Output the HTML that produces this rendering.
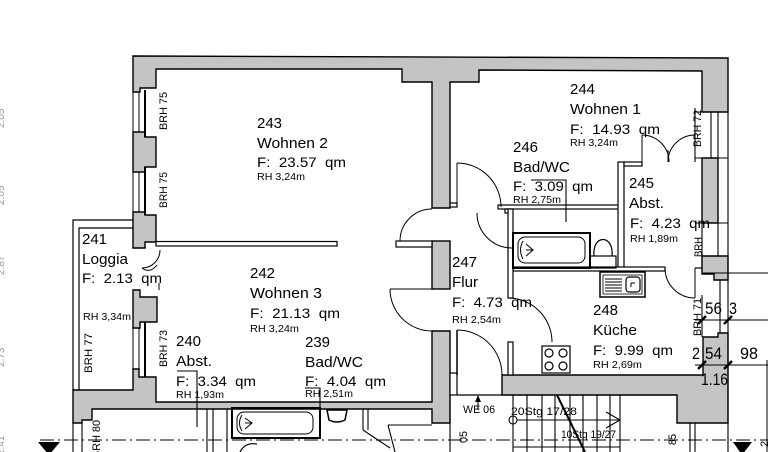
<!DOCTYPE html>
<html><head><meta charset="utf-8"><style>
html,body{margin:0;padding:0;background:#fff;}
svg{display:block;}
text{font-family:"Liberation Sans",sans-serif;fill:#000;white-space:pre;}
.n{font-size:15px}
.f{font-size:14px}
.r{font-size:10.5px}
.b{font-size:11px}
.d{font-size:17px}
.s{font-size:11px}
.g{font-size:10px;fill:#999}
</style></head><body>
<svg width="768" height="452" viewBox="0 0 768 452" xmlns="http://www.w3.org/2000/svg">
<rect width="768" height="452" fill="#fff"/>

<!-- gray walls -->
<g fill="#c4c4c4" stroke="#000" stroke-width="1.4" stroke-linejoin="miter">
 <polygon points="133,56 728,58 728,112 702,112 702,71 479,70 479,82 450,82 450,208 432,208 432,82 402,82 402,69 156,69 156,88 140,88 140,92 133,92"/>
 <polygon points="133,132 145,132 145,137 156,137 156,167 145,167 145,172 133,172"/>
 <polygon points="133,212 145,212 145,215 156,215 156,242 145,242 145,248 133,248"/>
 <polygon points="133,290 140,290 140,297 157,297 157,322 140,322 140,328 133,328"/>
 <polygon points="73,390 133,390 133,369 139,369 139,377 156,377 156,402 432,402 432,331 450,331 450,423 432,423 432,409 92,409 92,420 82,420 82,423 73,423"/>
 <rect x="432" y="241" width="18" height="48"/>
 <polygon points="702,158 718,158 718,223 702,223"/>
 <polygon points="702,256 728,256 728,280 714,280 714,274 702,274"/>
 <polygon points="502,375 703,375 703,337 718,337 718,333 728,333 728,423 677,423 677,395 502,395"/>
</g>

<!-- windows -->
<g stroke="#000" fill="none">
 <g stroke-width="1">
  <line x1="133" y1="92" x2="133" y2="132"/><line x1="139" y1="92" x2="139" y2="132"/>
  <line x1="133" y1="172" x2="133" y2="212"/><line x1="139" y1="172" x2="139" y2="212"/>
  <line x1="133" y1="328" x2="133" y2="369"/><line x1="139" y1="328" x2="139" y2="369"/>
 </g>
 <g stroke-width="2">
  <line x1="145" y1="90" x2="145" y2="137"/>
  <line x1="145" y1="167" x2="145" y2="215"/>
  <line x1="145" y1="322" x2="145" y2="377"/>
 </g>
 <g stroke-width="1.1">
  <line x1="695" y1="108" x2="695" y2="162"/>
  <line x1="711" y1="112" x2="711" y2="158"/>
  <line x1="718" y1="112" x2="718" y2="158"/>
  <line x1="695" y1="112" x2="728" y2="112"/>
  <line x1="695" y1="158" x2="728" y2="158"/>
  <line x1="728" y1="112" x2="728" y2="452"/>
  <line x1="702" y1="223" x2="702" y2="258"/>
  <line x1="718" y1="223" x2="718" y2="256"/>
  <line x1="695" y1="223" x2="728" y2="223"/>
  <line x1="702" y1="295" x2="702" y2="337"/>
  <line x1="720" y1="280" x2="720" y2="333"/>
  <line x1="703" y1="273" x2="768" y2="273"/>
 </g>
</g>

<!-- thin walls -->
<g fill="#fff" stroke="#000" stroke-width="1.2">
 <rect x="156" y="241.5" width="181" height="4.5"/>
 <rect x="396" y="241" width="36" height="6"/>
 <rect x="498" y="205" width="122" height="4"/>
 <rect x="505" y="209" width="7" height="4"/>
 <rect x="450" y="203" width="7" height="4"/>
 <rect x="618" y="162" width="6" height="106"/>
 <rect x="624" y="162" width="18" height="4"/>
 <rect x="513" y="267" width="152" height="4"/>
 <rect x="508" y="209" width="5" height="89"/>
 <rect x="508" y="342" width="5" height="33"/>
 <rect x="450" y="373" width="7" height="22"/>
</g>
<g stroke="#000" fill="none" stroke-width="1.2">
 <line x1="695" y1="268" x2="702" y2="268"/>
 <line x1="457" y1="395" x2="502" y2="395"/>
 <polyline points="133,220 73,220 73,390"/>
 <polyline points="133,228 79,228 79,390"/>
</g>

<!-- doors -->
<g stroke="#000" fill="none" stroke-width="1">
 <path d="M400,241 A32,32 0 0 1 432,209"/>
 <line x1="390" y1="289" x2="432" y2="289"/>
 <path d="M390,289 A42,42 0 0 0 432,331"/>
 <line x1="457" y1="330" x2="457" y2="375" stroke-width="1.5"/>
 <path d="M457,330 A45,45 0 0 1 502,375"/>
 <path d="M508,298 A44,44 0 0 1 552,342"/>
 <line x1="457" y1="163" x2="457" y2="207"/>
 <path d="M457,163 A44,44 0 0 1 501,207"/>
 <path d="M477,213 A35,35 0 0 0 512,248"/>
 <line x1="695" y1="268" x2="695" y2="298"/>
 <path d="M665,268 A30,30 0 0 0 695,298"/>
 <line x1="642" y1="135" x2="642" y2="162"/>
 <path d="M642,135 A27,27 0 0 1 669,162"/>
 <line x1="695" y1="135" x2="695" y2="162"/>
 <path d="M695,135 A27,27 0 0 0 668,162"/>
 <line x1="668" y1="150" x2="668" y2="162"/>
 <path d="M160,250 A18,18 0 0 1 142,268"/>
 <path d="M142,268 Q150,274 157,265"/>
 <line x1="159" y1="283" x2="159" y2="290"/>
</g>

<!-- fixtures -->
<g stroke="#000" fill="none">
 <rect x="513" y="233" width="77" height="35" stroke-width="2"/>
 <rect x="518" y="237" width="67" height="26" rx="7" stroke-width="1"/>
 <path d="M523,241 Q518,250 523,259" stroke-width="1"/>
 <path d="M526,244 L533,250 L526,256 M526,250 L533,250" stroke-width="1"/>
 <rect x="590" y="256" width="26" height="12" stroke-width="1.2"/>
 <path d="M594,256 C592,234 614,234 612,256" stroke-width="1.2"/>
 <rect x="600" y="272" width="45" height="25" stroke-width="1.5"/>
 <rect x="603" y="275" width="39" height="19" stroke-width="0.8"/>
 <g stroke-width="1">
  <line x1="605" y1="279" x2="622" y2="279"/><line x1="605" y1="282" x2="622" y2="282"/>
  <line x1="605" y1="285" x2="622" y2="285"/><line x1="605" y1="288" x2="622" y2="288"/>
  <line x1="605" y1="291" x2="622" y2="291"/>
 </g>
 <rect x="626" y="277" width="14" height="15" rx="3" stroke-width="1.2"/>
 <path d="M631,283 L631,287 M631,283 L635,283" stroke-width="1"/>
 <rect x="542" y="346" width="28" height="27" stroke-width="1.2"/>
 <g stroke-width="1.2">
  <circle cx="549" cy="353" r="4"/><circle cx="563" cy="353" r="4"/>
  <circle cx="549" cy="366" r="4"/><circle cx="563" cy="366" r="4"/>
 </g>
 <rect x="232" y="408" width="88" height="30" stroke-width="2"/>
 <rect x="237" y="412" width="76" height="22" rx="7" stroke-width="1"/>
 <path d="M242,415 Q237,423 242,431" stroke-width="1"/>
 <path d="M245,418 L252,423 L245,429 M245,423 L252,423" stroke-width="1"/>
 <path d="M327,410 L347,410 L345,420 Q337,424 329,420 Z" stroke-width="1.5"/>
 <path d="M240,452 Q245,442 257,444" stroke-width="1.2"/>
</g>

<!-- brackets & misc lines -->
<g stroke="#000" fill="none" stroke-width="1.1">
 <polyline points="531,180 566,180 566,222"/>
 <polyline points="177,371 197,371 197,427"/>
 <polyline points="305,388 320,388 320,437"/>
 <line x1="73" y1="423" x2="73" y2="452"/>
 <line x1="82" y1="423" x2="82" y2="452"/>
 <line x1="207" y1="409" x2="207" y2="452"/>
 <line x1="213" y1="409" x2="213" y2="452"/>
 <line x1="227" y1="409" x2="227" y2="452"/>
 <line x1="363" y1="409" x2="363" y2="430"/>
 <line x1="368" y1="409" x2="368" y2="430"/>
 <line x1="363" y1="430" x2="390" y2="448"/>
 <line x1="388" y1="425" x2="432" y2="425"/>
 <line x1="388" y1="425" x2="395" y2="452"/>
 <line x1="450" y1="395" x2="450" y2="452"/>
 <line x1="478" y1="410" x2="478" y2="399"/>
</g>
<polygon points="475,402 478,395 481,402" fill="#000"/>

<!-- stairs -->
<g stroke="#000" fill="none" stroke-width="1.1">
 <line x1="513" y1="395" x2="513" y2="452"/>
 <line x1="527" y1="395" x2="527" y2="452"/>
 <line x1="542" y1="395" x2="542" y2="452"/>
 <line x1="555" y1="395" x2="555" y2="452"/>
 <line x1="570" y1="395" x2="570" y2="452"/>
 <line x1="583" y1="395" x2="583" y2="452"/>
 <line x1="597" y1="395" x2="597" y2="452"/>
 <line x1="610" y1="395" x2="610" y2="452"/>
 <line x1="620" y1="395" x2="620" y2="452"/>
 <line x1="513" y1="447" x2="620" y2="447"/>
 <line x1="557" y1="395" x2="585" y2="452" stroke-width="2"/>
 <line x1="517" y1="420" x2="620" y2="420"/>
 <polyline points="606,412 620,420 606,428"/>
 <circle cx="513" cy="420" r="4"/>
 <line x1="690" y1="423" x2="690" y2="452"/>
 <line x1="695" y1="423" x2="695" y2="452"/>
</g>

<!-- axis line and markers -->
<line x1="40" y1="440" x2="768" y2="440" stroke="#000" stroke-width="1" stroke-dasharray="14 4 2 4"/>
<polygon points="38,442 60,442 49,455" fill="#000"/>
<polygon points="733,442 752,442 742,455" fill="#000"/>

<!-- dimensions -->
<g stroke="#000" fill="none" stroke-width="1">
 <line x1="695" y1="320" x2="768" y2="320"/>
 <line x1="695" y1="365" x2="768" y2="365"/>
 <line x1="767" y1="360" x2="767" y2="452"/>
 <g stroke-width="2.5">
  <line x1="698" y1="324" x2="706" y2="316"/>
  <line x1="724" y1="324" x2="732" y2="316"/>
  <line x1="698" y1="369" x2="706" y2="361"/>
  <line x1="724" y1="369" x2="732" y2="361"/>
 </g>
</g>
<text class="d" x="705" y="314" textLength="17" lengthAdjust="spacingAndGlyphs">56</text>
<text class="d" x="729" y="314" textLength="8" lengthAdjust="spacingAndGlyphs">3</text>
<text class="d" x="692" y="359" textLength="8" lengthAdjust="spacingAndGlyphs">2</text>
<text class="d" x="705" y="359" textLength="17" lengthAdjust="spacingAndGlyphs">54</text>
<text class="d" x="740" y="359" textLength="18" lengthAdjust="spacingAndGlyphs">98</text>
<text class="d" x="701" y="385" textLength="27" lengthAdjust="spacingAndGlyphs">1.16</text>

<!-- room labels -->
<text class="n" x="257" y="128">243</text>
<text class="n" x="257" y="148" textLength="71" lengthAdjust="spacingAndGlyphs">Wohnen 2</text>
<text class="f" x="257" y="167" textLength="89" lengthAdjust="spacingAndGlyphs">F:  23.57  qm</text>
<text class="r" x="257" y="180" textLength="48" lengthAdjust="spacingAndGlyphs">RH 3,24m</text>

<text class="n" x="570" y="94">244</text>
<text class="n" x="570" y="114" textLength="71" lengthAdjust="spacingAndGlyphs">Wohnen 1</text>
<text class="f" x="570" y="134" textLength="90" lengthAdjust="spacingAndGlyphs">F:  14.93  qm</text>
<text class="r" x="570" y="146" textLength="48" lengthAdjust="spacingAndGlyphs">RH 3,24m</text>

<text class="n" x="513" y="152">246</text>
<text class="n" x="513" y="172" textLength="57" lengthAdjust="spacingAndGlyphs">Bad/WC</text>
<text class="f" x="513" y="191" textLength="80" lengthAdjust="spacingAndGlyphs">F:  3.09  qm</text>
<text class="r" x="513" y="203" textLength="48" lengthAdjust="spacingAndGlyphs">RH 2,75m</text>

<text class="n" x="629" y="188">245</text>
<text class="n" x="629" y="208" textLength="35" lengthAdjust="spacingAndGlyphs">Abst.</text>
<text class="f" x="630" y="228" textLength="80" lengthAdjust="spacingAndGlyphs">F:  4.23  qm</text>
<text class="r" x="630" y="242" textLength="48" lengthAdjust="spacingAndGlyphs">RH 1,89m</text>

<text class="n" x="593" y="315">248</text>
<text class="n" x="593" y="335" textLength="44" lengthAdjust="spacingAndGlyphs">Küche</text>
<text class="f" x="593" y="355" textLength="80" lengthAdjust="spacingAndGlyphs">F:  9.99  qm</text>
<text class="r" x="593" y="368" textLength="49" lengthAdjust="spacingAndGlyphs">RH 2,69m</text>

<text class="n" x="452" y="267">247</text>
<text class="n" x="452" y="287" textLength="26" lengthAdjust="spacingAndGlyphs">Flur</text>
<text class="f" x="452" y="307" textLength="80" lengthAdjust="spacingAndGlyphs">F:  4.73  qm</text>
<text class="r" x="452" y="323" textLength="49" lengthAdjust="spacingAndGlyphs">RH 2,54m</text>

<text class="n" x="250" y="278">242</text>
<text class="n" x="250" y="298" textLength="72" lengthAdjust="spacingAndGlyphs">Wohnen 3</text>
<text class="f" x="250" y="318" textLength="90" lengthAdjust="spacingAndGlyphs">F:  21.13  qm</text>
<text class="r" x="250" y="332" textLength="49" lengthAdjust="spacingAndGlyphs">RH 3,24m</text>

<text class="n" x="82" y="244">241</text>
<text class="n" x="82" y="264" textLength="46" lengthAdjust="spacingAndGlyphs">Loggia</text>
<text class="f" x="82" y="283" textLength="80" lengthAdjust="spacingAndGlyphs">F:  2.13  qm</text>
<text class="r" x="83" y="320" textLength="48" lengthAdjust="spacingAndGlyphs">RH 3,34m</text>

<text class="n" x="176" y="346">240</text>
<text class="n" x="176" y="366" textLength="36" lengthAdjust="spacingAndGlyphs">Abst.</text>
<text class="f" x="176" y="386" textLength="80" lengthAdjust="spacingAndGlyphs">F:  3.34  qm</text>
<text class="r" x="176" y="398" textLength="48" lengthAdjust="spacingAndGlyphs">RH 1,93m</text>

<text class="n" x="305" y="347">239</text>
<text class="n" x="305" y="367" textLength="58" lengthAdjust="spacingAndGlyphs">Bad/WC</text>
<text class="f" x="305" y="386" textLength="81" lengthAdjust="spacingAndGlyphs">F:  4.04  qm</text>
<text class="r" x="305" y="397" textLength="48" lengthAdjust="spacingAndGlyphs">RH 2,51m</text>

<!-- rotated BRH labels -->
<text class="b" transform="translate(167,130) rotate(-90)" textLength="38" lengthAdjust="spacingAndGlyphs">BRH 75</text>
<text class="b" transform="translate(167,208) rotate(-90)" textLength="36" lengthAdjust="spacingAndGlyphs">BRH 75</text>
<text class="b" transform="translate(701,147) rotate(-90)" textLength="37" lengthAdjust="spacingAndGlyphs">BRH 72</text>
<text class="b" transform="translate(702,257) rotate(-90)" textLength="20" lengthAdjust="spacingAndGlyphs">BRH</text>
<text class="b" transform="translate(701,336) rotate(-90)" textLength="38" lengthAdjust="spacingAndGlyphs">BRH 71</text>
<text class="b" transform="translate(167,367) rotate(-90)" textLength="37" lengthAdjust="spacingAndGlyphs">BRH 73</text>
<text class="b" transform="translate(92,373) rotate(-90)" textLength="40" lengthAdjust="spacingAndGlyphs">BRH 77</text>
<text class="b" transform="translate(100,458) rotate(-90)" textLength="38" lengthAdjust="spacingAndGlyphs">BRH 80</text>
<text class="b" transform="translate(467,443) rotate(-90)" textLength="12" lengthAdjust="spacingAndGlyphs">05</text>
<text class="b" transform="translate(676,445) rotate(-90)" textLength="11" lengthAdjust="spacingAndGlyphs">85</text>
<text class="b" transform="translate(768,447) rotate(-90)">2</text>

<!-- stair / misc labels -->
<text class="s" x="463" y="413" textLength="32" lengthAdjust="spacingAndGlyphs">WE 06</text>
<text class="s" x="511" y="415" textLength="66" lengthAdjust="spacingAndGlyphs">20Stg 17/28</text>
<text class="s" x="561" y="438" textLength="55" lengthAdjust="spacingAndGlyphs">10Stg 19/27</text>

<!-- faint left-edge labels -->
<text class="g" transform="translate(4,128) rotate(-90)">2.05</text>
<text class="g" transform="translate(4,205) rotate(-90)">2.05</text>
<text class="g" transform="translate(4,275) rotate(-90)">2.87</text>
<text class="g" transform="translate(4,367) rotate(-90)">2.73</text>
<text class="g" transform="translate(4,455) rotate(-90)">2.41</text>
</svg>
</body></html>
